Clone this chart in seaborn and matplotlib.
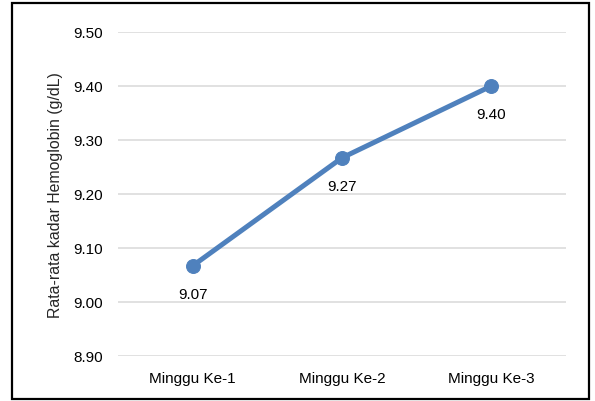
import matplotlib
matplotlib.use("Agg")
import matplotlib.pyplot as plt
import matplotlib.patches as mpatches
import seaborn as sns
import pandas as pd

# Weekly mean haemoglobin level
weeks = ["Minggu Ke-1", "Minggu Ke-2", "Minggu Ke-3"]
hb_mean = [9.067, 9.267, 9.40]
y_ticks = [8.90, 9.00, 9.10, 9.20, 9.30, 9.40, 9.50]

sns.set_theme(style="white")
plt.rcParams["font.family"] = ["Liberation Sans", "DejaVu Sans"]

df = pd.DataFrame({"week": weeks, "hb": hb_mean})

fig = plt.figure(figsize=(5.95, 4.02), dpi=100)
ax = fig.add_axes([118 / 595, 45 / 402, 448 / 595, 324 / 402])

line_color = "#4F81BD"
sns.lineplot(data=df, x="week", y="hb", ax=ax, color=line_color,
             linewidth=3.6, marker="o", markersize=10,
             markeredgecolor=line_color, markerfacecolor=line_color,
             sort=False)

ax.set_xlim(-0.5, len(weeks) - 0.5)
ax.set_ylim(y_ticks[0], y_ticks[-1])
ax.set_yticks(y_ticks)
ax.set_yticklabels([f"{t:.2f}" for t in y_ticks])
ax.yaxis.grid(True, color="#D9D9D9", linewidth=1.1)
ax.xaxis.grid(False)
for s in ax.spines.values():
    s.set_visible(False)
ax.tick_params(axis="both", length=0, labelsize=11, colors="#000000")
ax.tick_params(axis="y", pad=11)
ax.tick_params(axis="x", pad=10.5)
ax.set_xlabel("")
ax.set_ylabel("Rata-rata kadar Hemoglobin (g/dL)", fontsize=11.4)
ax.yaxis.set_label_coords(-0.122, 0.5)

# Value labels under each point
for i, v in enumerate(hb_mean):
    ax.annotate(f"{v:.2f}", xy=(i, v), xytext=(0, -20.5), textcoords="offset points",
                ha="center", va="center", fontsize=11, color="#000000")

# Outer chart frame
frame = mpatches.Rectangle((12 / 595, 2 / 402), 577 / 595, 396 / 402,
                           transform=fig.transFigure, fill=False,
                           edgecolor="#000000", linewidth=1.6)
fig.patches.append(frame)

fig.savefig("out.png", dpi=100)
